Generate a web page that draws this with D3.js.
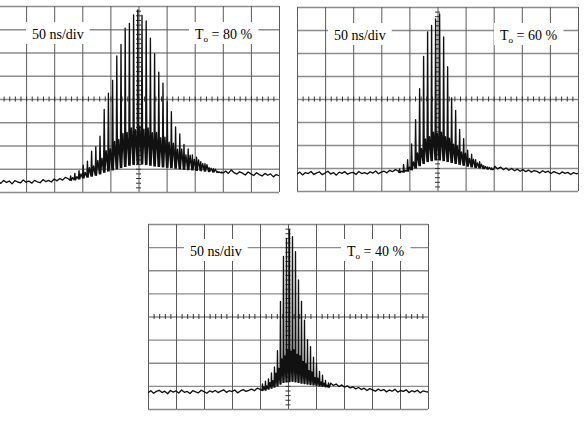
<html>
<script src="https://d3js.org/d3.v7.min.js"></script>
<body style="margin:0; background:#fff;">
<svg width="584" height="423"></svg>
<script>
// scope screen: 10 div x 8 div, 50 ns/div
var gridTimes = [-250, -200, -150, -100, -50, 0, 50, 100, 150, 200, 250];
var gridLevels = [0, 1, 2, 3, 4, 5, 6, 7, 8];
var timebase = "50 ns/div";
var transmissions = ["80 %", "60 %", "40 %"];

// spike train (levels in divisions above the bottom line)
var spikeStart = [-121.9, -68.5, -46.4];   // ns
var spikePeriod = [7.47, 7.12, 5.36];      // ns
var baseStep = 5;                          // ns between baseline samples
var tailStart = [155, 102, 76];            // ns

var peaks80 = [0.69,0.80,0.92,1.15,1.33,1.76,1.95,2.40,3.55,4.25,4.80,5.85,6.35,7.05,7.25,7.62,7.83,7.60,7.36,6.62,5.95,5.15,4.68,3.88,3.45,2.80,2.50,2.05,1.85,1.60,1.50,1.30,1.22,1.05,1.00,0.88,0.86];
var mids80  = [0.62,0.66,0.78,0.84,1.05,1.12,1.36,1.46,1.78,1.86,2.18,2.26,2.52,2.56,2.76,2.68,2.84,2.70,2.76,2.55,2.56,2.34,2.36,2.14,2.10,1.84,1.85,1.60,1.58,1.40,1.38,1.22,1.18,1.02,0.98,0.86,0.83];
var lows80  = [0.50,0.52,0.56,0.60,0.64,0.68,0.72,0.78,0.85,0.90,0.95,1.00,1.05,1.10,1.15,1.18,1.20,1.20,1.18,1.15,1.12,1.10,1.08,1.06,1.04,1.02,1.00,0.98,0.96,0.95,0.93,0.92,0.90,0.88,0.86,0.84,0.82];
var lead80  = [0.45,0.37,0.50,0.41,0.47,0.35,0.49,0.43,0.39,0.52,0.42,0.47,0.38,0.50,0.44,0.40,0.53,0.45,0.50,0.43,0.56,0.48,0.58,0.51,0.63,0.57];
var tail80  = [0.90,0.80,0.95,0.83,0.77,0.87,0.81,0.73,0.86,0.78,0.71,0.83,0.75,0.69,0.80,0.72,0.78,0.65,0.75,0.70];

var peaks60 = [0.96,1.15,1.36,2.05,3.10,4.45,5.85,6.92,7.20,7.48,7.70,6.70,5.40,4.05,3.50,2.68,2.28,1.78,1.60,1.36,1.28,1.10,1.05,1.00];
var mids60  = [0.86,0.90,1.04,1.26,1.66,1.85,2.26,2.36,2.56,2.50,2.56,2.36,2.30,2.04,1.96,1.70,1.64,1.42,1.38,1.22,1.17,1.06,1.02,0.94];
var lows60  = [0.80,0.82,0.86,0.92,1.00,1.10,1.20,1.28,1.32,1.35,1.35,1.32,1.28,1.24,1.20,1.16,1.12,1.08,1.05,1.02,1.00,0.97,0.95,0.93];
var lead60  = [0.74,0.82,0.70,0.80,0.76,0.85,0.72,0.79,0.83,0.71,0.78,0.86,0.74,0.80,0.69,0.82,0.77,0.84,0.73,0.79,0.81,0.72,0.85,0.76,0.80,0.74,0.83,0.78,0.87,0.75,0.82,0.86,0.79,0.90,0.84,0.93,0.88];
var tail60  = [1.08,0.96,1.04,0.93,1.00,0.90,0.98,0.88,0.95,0.86,0.93,0.84,0.91,0.82,0.89,0.85,0.78,0.88,0.81,0.86,0.76,0.84,0.79,0.74,0.83,0.77,0.81,0.72,0.80,0.75,0.78];

var peaks40 = [1.08,1.20,1.30,1.56,1.82,2.52,4.65,6.60,7.35,7.75,7.45,6.80,5.58,4.65,3.84,3.00,2.70,2.24,1.98,1.62,1.46,1.24,1.13];
var mids40  = [0.96,1.00,1.14,1.22,1.55,1.76,2.16,2.30,2.56,2.50,2.56,2.36,2.30,2.06,1.95,1.66,1.60,1.36,1.33,1.17,1.12,1.03,1.00];
var lows40  = [0.80,0.82,0.86,0.90,0.95,1.00,1.08,1.15,1.18,1.20,1.20,1.18,1.15,1.12,1.10,1.08,1.06,1.04,1.02,1.00,0.98,0.96,0.94];
var lead40  = [0.70,0.79,0.68,0.76,0.81,0.71,0.77,0.66,0.80,0.73,0.78,0.69,0.82,0.72,0.76,0.67,0.79,0.74,0.70,0.81,0.75,0.68,0.78,0.73,0.80,0.71,0.77,0.83,0.72,0.79,0.75,0.82,0.70,0.78,0.84,0.76,0.81,0.86,0.79,0.90,0.85];
var tail40  = [1.12,1.02,1.08,0.97,1.04,0.94,1.00,0.91,0.96,0.87,0.93,0.84,0.90,0.80,0.88,0.83,0.77,0.86,0.79,0.84,0.74,0.82,0.77,0.85,0.73,0.80,0.76,0.83,0.71,0.79,0.74,0.81,0.70,0.78,0.75,0.73];

var panels = [
    {x0: -2, x1: 279, y0: 6, y1: 192, lx: 32, tx: 195, by: 39, peaks: peaks80, mids: mids80, lows: lows80, lead: lead80, tail: tail80},
    {x0: 297, x1: 578, y0: 7, y1: 191, lx: 334, tx: 500, by: 40, peaks: peaks60, mids: mids60, lows: lows60, lead: lead60, tail: tail60},
    {x0: 148, x1: 428, y0: 224, y1: 409, lx: 190, tx: 347, by: 256, peaks: peaks40, mids: mids40, lows: lows40, lead: lead40, tail: tail40}
];

var svg = d3.select("svg");
var serif = "14px 'Liberation Serif', 'Times New Roman', serif";

panels.forEach(function(p, k) {
    var x = d3.scaleLinear().domain([-250, 250]).range([p.x0, p.x1]);
    var y = d3.scaleLinear().domain([0, 8]).range([p.y1, p.y0]);
    var g = svg.append("g");

    // horizontal grid
    g.append("g")
        .attr("transform", "translate(" + p.x0 + ",0)")
        .call(d3.axisLeft(y).tickValues(gridLevels).tickSize(-(p.x1 - p.x0)).tickFormat(""))
        .call(function(a) { a.select(".domain").remove(); })
        .selectAll("line").attr("stroke", "#8c8c8c").attr("stroke-width", 1.3);

    // vertical grid
    g.append("g")
        .attr("transform", "translate(0," + p.y1 + ")")
        .call(d3.axisBottom(x).tickValues(gridTimes).tickSize(-(p.y1 - p.y0)).tickFormat(""))
        .call(function(a) { a.select(".domain").remove(); })
        .selectAll("line").attr("stroke", "#5a5a5a").attr("stroke-width", 1);

    // minor ticks on the centre lines
    g.append("g")
        .attr("transform", "translate(0," + (y(4) - 2.5) + ")")
        .call(d3.axisBottom(x).tickValues(d3.range(-240, 250, 10)).tickSize(5).tickFormat(""))
        .call(function(a) { a.select(".domain").remove(); })
        .selectAll("line").attr("stroke", "#333");
    g.append("g")
        .attr("transform", "translate(" + (x(0) + 2.5) + ",0)")
        .call(d3.axisLeft(y).tickValues(d3.range(0.2, 8, 0.2)).tickSize(5).tickFormat(""))
        .call(function(a) { a.select(".domain").remove(); })
        .selectAll("line").attr("stroke", "#333");

    // trace points
    var pts = [];
    p.lead.forEach(function(v, i) { pts.push([-250 + i * baseStep, v]); });
    var per = spikePeriod[k];
    p.peaks.forEach(function(v, i) {
        var t = spikeStart[k] + i * per;
        pts.push([t, p.lows[i]]);
        pts.push([t + 0.15 * per, v]);
        pts.push([t + 0.32 * per, p.lows[i]]);
        pts.push([t + 0.62 * per, p.mids[i]]);
    });
    p.tail.forEach(function(v, i) { pts.push([tailStart[k] + i * baseStep, v]); });

    svg.append("clipPath").attr("id", "clip" + k)
        .append("rect").attr("x", p.x0).attr("y", p.y0)
        .attr("width", p.x1 - p.x0).attr("height", p.y1 - p.y0);

    g.append("path")
        .datum(pts)
        .attr("clip-path", "url(#clip" + k + ")")
        .attr("fill", "none")
        .attr("stroke", "#111")
        .attr("stroke-width", 1.35)
        .attr("stroke-linejoin", "round")
        .attr("d", d3.line().x(function(d) { return x(d[0]); }).y(function(d) { return y(d[1]); }));

    // labels on white patches
    var lg = g.append("g");
    var lab1 = lg.append("text").attr("x", p.lx).attr("y", p.by)
        .style("font", serif)
        .text(timebase);
    var lab2 = lg.append("text").attr("x", p.tx).attr("y", p.by)
        .style("font", serif);
    lab2.append("tspan").text("T");
    lab2.append("tspan").attr("dy", 3).style("font-size", "9px").text("o");
    lab2.append("tspan").attr("dy", -3).text(" = " + transmissions[k]);

    [lab1, lab2].forEach(function(t) {
        var b = t.node().getBBox();
        lg.insert("rect", ":first-child")
            .attr("x", b.x - 6).attr("y", p.by - 17)
            .attr("width", b.width + 12).attr("height", 22)
            .attr("fill", "#fff");
    });
});
</script>
</body>
</html>
